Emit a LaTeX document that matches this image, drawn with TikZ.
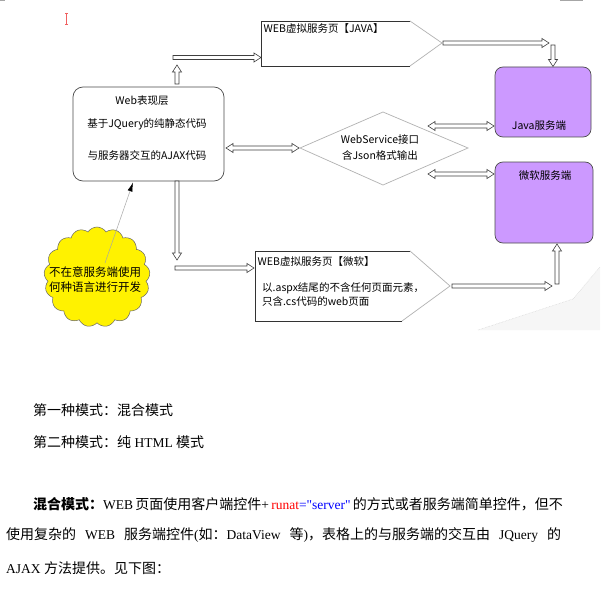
\documentclass[tikz,border=0pt]{standalone}
\usepackage{fontspec}
\setmainfont{Liberation Serif}
\newfontfamily\cjk{Noto Sans CJK SC}
\usetikzlibrary{calc,shapes.symbols,arrows.meta}
\definecolor{purp}{HTML}{CC99FF}
\definecolor{cursorred}{HTML}{F06060}
\newcommand\zh[1]{{\cjk\fontsize{14}{16}\selectfont #1}}
\newcommand\zhb[1]{{\cjk\bfseries\fontsize{14}{16}\selectfont #1}}
\tikzset{
  holl/.style={draw=black!75,fill=white,line width=0.6pt,line join=miter},
  dtext/.style={font=\cjk\fontsize{10.5}{12}\selectfont,inner sep=0pt},
  btext/.style={font=\fontsize{13.5}{16}\selectfont,inner sep=0pt,anchor=west},
  srvbox/.style={draw=black!70,fill=purp,rounded corners=8pt,line width=0.7pt},
}
\newcommand\hol[2]{%
\draw[holl] let \p1=(#1), \p2=(#2), \n1={atan2(\y2-\y1,\x2-\x1)} in
 ($(\p1)+(\n1+90:2pt)$) -- ($(\p2)+(\n1+180:7pt)+(\n1+90:2pt)$) -- ($(\p2)+(\n1+180:7pt)+(\n1+90:4.5pt)$) -- (\p2) -- ($(\p2)+(\n1+180:7pt)+(\n1-90:4.5pt)$) -- ($(\p2)+(\n1+180:7pt)+(\n1-90:2pt)$) -- ($(\p1)+(\n1-90:2pt)$) -- cycle;}
\newcommand\dhol[2]{%
\draw[holl] let \p1=(#1), \p2=(#2), \n1={atan2(\y2-\y1,\x2-\x1)} in
 (\p1) -- ($(\p1)+(\n1:7pt)+(\n1+90:4.5pt)$) -- ($(\p1)+(\n1:7pt)+(\n1+90:2pt)$) -- ($(\p2)+(\n1+180:7pt)+(\n1+90:2pt)$) -- ($(\p2)+(\n1+180:7pt)+(\n1+90:4.5pt)$) -- (\p2) -- ($(\p2)+(\n1+180:7pt)+(\n1-90:4.5pt)$) -- ($(\p2)+(\n1+180:7pt)+(\n1-90:2pt)$) -- ($(\p1)+(\n1:7pt)+(\n1-90:2pt)$) -- ($(\p1)+(\n1:7pt)+(\n1-90:4.5pt)$) -- cycle;}
\begin{document}
\begin{tikzpicture}[x=1pt,y=-1pt]
\useasboundingbox[fill=white] (0,0) rectangle (600,604);
% edge marks and cursor
\draw[gray!70,line width=1pt] (0,0.5) -- (5,0.5);
\draw[gray!70,line width=1pt] (560,0.5) -- (583,0.5);
\draw[cursorred,line width=0.8pt] (66.5,13) -- (66.5,25) (65,13.3) -- (68,13.3) (65,24.7) -- (68,24.7);
% shadow
\fill[gray!7] (478,330) -- (573,299) -- (600,267) -- (600,330) -- cycle;
\draw[gray!35,densely dotted,line width=0.5pt] (478,330) -- (573,299) -- (600,267);
% web box
\node[draw=black!70,line width=0.7pt,rounded corners=10pt,minimum width=151pt,minimum height=94pt] (web) at (148.5,134) {};
\node[dtext] (w1) at (142,101) {Web表现层};
\node[dtext] (w2) at (147,124) {基于JQuery的纯静态代码};
\node[dtext] (w3) at (147,155) {与服务器交互的AJAX代码};
% java pentagon
\coordinate (jp1) at (261,21); \coordinate (jp2) at (410,21); \coordinate (jp3) at (442,43);
\coordinate (jp4) at (410,66); \coordinate (jp5) at (261,66);
\draw[black!80,line width=0.7pt] (jp2) -- (jp1) -- (jp5) -- (jp4);
\draw[gray!60,line width=0.7pt] (jp2) -- (jp3) -- (jp4);
\node[dtext,anchor=west] (jt) at (263.5,29) {WEB虚拟服务页【JAVA】};
% ms pentagon
\coordinate (mp1) at (255,251); \coordinate (mp2) at (410,251); \coordinate (mp3) at (450,286);
\coordinate (mp4) at (402,321); \coordinate (mp5) at (255,321);
\draw[black!80,line width=0.7pt] (mp2) -- (mp1) -- (mp5) -- (mp4);
\draw[gray!60,line width=0.7pt] (mp2) -- (mp3) -- (mp4);
\node[dtext,anchor=west] (mt1) at (257.5,262) {WEB虚拟服务页【微软】};
\node[dtext,anchor=west] (mt2) at (262,288) {以.aspx结尾的不含任何页面元素，};
\node[dtext,anchor=west] (mt3) at (262,302) {只含.cs代码的web页面};
% diamond
\coordinate (d1) at (300,148); \coordinate (d2) at (383,112); \coordinate (d3) at (468,148); \coordinate (d4) at (383,185);
\draw[gray!60,line width=0.7pt] (d1) -- (d2) -- (d3) -- (d4) -- cycle;
\node[dtext] (dt1) at (380,140) {WebService接口};
\node[dtext] (dt2) at (380,155) {含Json格式输出};
% server boxes
\node[srvbox,minimum width=96pt,minimum height=70pt] (java) at (543,102) {};
\node[dtext] (javat) at (539,126) {Java服务端};
\node[srvbox,minimum width=98pt,minimum height=81pt] (ms) at (544,202.5) {};
\node[dtext] (mst) at (545,176) {微软服务端};
% cloud
\node[cloud,cloud puffs=17,cloud puff arc=115,cloud ignores aspect,minimum width=106pt,minimum height=100pt,fill=yellow,draw=black!60,line width=0.5pt] (cl) at (97,277) {};
\coordinate (cls) at (105,263);
\draw[gray!70,line width=0.5pt,-{Latex[length=9pt,width=5pt,black]}] (cls) -- (133,182.5);
\node[font=\cjk\fontsize{11.5}{13}\selectfont,inner sep=0pt] (ct1) at (95,272) {不在意服务端使用};
\node[font=\cjk\fontsize{11.5}{13}\selectfont,inner sep=0pt] (ct2) at (95,287) {何种语言进行开发};
% hollow arrows
\coordinate (a1s) at (177,84); \coordinate (a1e) at (177,65);
\coordinate (a2s) at (173,57.5); \coordinate (a2e) at (261,57.5);
\coordinate (a3s) at (443,43); \coordinate (a3e) at (549,43);
\coordinate (a4s) at (553,45); \coordinate (a4e) at (553,66.5);
\coordinate (a5s) at (226,148); \coordinate (a5e) at (299,148);
\coordinate (a6s) at (428,126); \coordinate (a6e) at (494,126);
\coordinate (a7s) at (428,174); \coordinate (a7e) at (494,174);
\coordinate (a8s) at (177,181); \coordinate (a8e) at (177,260);
\coordinate (a9s) at (175,268); \coordinate (a9e) at (254,268);
\coordinate (a10s) at (452,286); \coordinate (a10e) at (552,286);
\coordinate (a11s) at (557,284); \coordinate (a11e) at (557,244);
\hol{a1s}{a1e}
\hol{a2s}{a2e}
\hol{a3s}{a3e}
\hol{a4s}{a4e}
\dhol{a5s}{a5e}
\dhol{a6s}{a6e}
\dhol{a7s}{a7e}
\hol{a8s}{a8e}
\hol{a9s}{a9e}
\hol{a10s}{a10e}
\hol{a11s}{a11e}
% body text
\node[btext] (l1) at (33,410) {\zh{第一种模式：混合模式}};
\node[btext] (l2) at (33,442) {\zh{第二种模式：纯} HTML \zh{模式}};
\node[btext] (l3) at (33,504) {\makebox[528pt][s]{\zhb{混合模式：}WEB \zh{页面使用客户端控件}+ \textcolor{red}{runat}\textcolor{blue}{=\textquotedbl server\textquotedbl} \zh{的方式或者服务端简单控件，但不}}};
\node[btext] (l4) at (6,535) {\makebox[555pt][s]{\zh{使用复杂的} WEB \zh{服务端控件}(\zh{如：}DataView \zh{等})\zh{，表格上的与服务端的交互由} JQuery \zh{的}}};
\node[btext] (l5) at (6,568) {AJAX \zh{方法提供。见下图：}};
\end{tikzpicture}
\end{document}
